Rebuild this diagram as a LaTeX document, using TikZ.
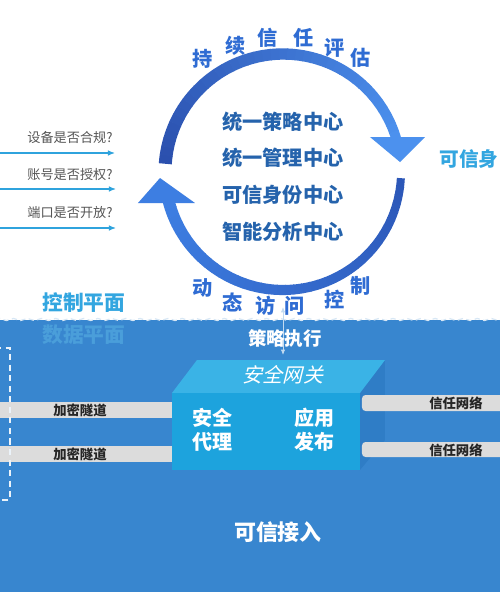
\documentclass[tikz,border=0pt]{standalone}
\usepackage{fontspec}
\setmainfont{Noto Sans CJK SC}
\newfontfamily\cjkit[FakeSlant=0.25]{Noto Sans CJK SC}
\usetikzlibrary{calc,decorations.pathmorphing,arrows.meta}
\definecolor{bgblue}{HTML}{3886CF}
\definecolor{ringdark}{HTML}{2B50AE}
\definecolor{ringlight}{HTML}{4C91EE}
\definecolor{ringbdark}{HTML}{2C57B8}
\definecolor{ringblight}{HTML}{3D7EE2}
\definecolor{labblue}{HTML}{2F6CD3}
\definecolor{ctrtxt}{HTML}{2563AC}
\definecolor{cyantxt}{HTML}{33A6E0}
\definecolor{faint}{HTML}{4A9EDA}
\definecolor{qgray}{HTML}{555555}
\definecolor{arrcyan}{HTML}{2FA3DD}
\definecolor{frontc}{HTML}{1DA3DD}
\definecolor{topc}{HTML}{3AB3E6}
\definecolor{sidec}{HTML}{2F7DC6}
\definecolor{barg}{HTML}{DCDCDC}
\begin{document}
\begin{tikzpicture}[x=0.02cm,y=0.02cm,
  qtxt/.style={font=\fontsize{7.5}{9}\selectfont, text=qgray, inner sep=0pt},
  qarr/.style={draw=arrcyan, line width=0.7pt, -{Latex[length=4pt,width=3.2pt]}},
  ctr/.style={font=\fontsize{11.5}{13}\selectfont\bfseries, text=ctrtxt, inner sep=0pt},
  ringlab/.style={font=\fontsize{11.5}{13}\selectfont\bfseries, text=labblue, inner sep=0pt},
  plane/.style={font=\fontsize{11.8}{14}\selectfont\bfseries, inner sep=0pt},
  wtxt/.style={font=\fontsize{11.4}{13.7}\selectfont\bfseries, text=white, inner sep=0pt, align=center},
  bartxt/.style={font=\fontsize{7.6}{9}\selectfont\bfseries, text=black!85, inner sep=0pt},
]
\useasboundingbox (0,0) rectangle (500,600);
\clip (0,0) rectangle (500,600);
\fill[white] (0,0) rectangle (500,600);
% data plane background
\fill[bgblue] (0,8) rectangle (500,280);
\draw[white!80!bgblue, line width=0.7pt, dash pattern=on 3pt off 2pt, decorate,
  decoration={snake, amplitude=0.6pt, segment length=8pt}] (-5,280.5) -- (505,280.5);

% ring
\coordinate (C) at (283,428);
\foreach \i in {0,...,39}{
  \pgfmathsetmacro\aa{176-\i*4}
  \pgfmathsetmacro\ab{\aa-4.3}
  \pgfmathtruncatemacro\p{100*\i/39}
  \pgfmathsetmacro\w{(13-3*\i/39)*0.569}
  \draw[line width=\w pt, ringlight!\p!ringdark] (C) ++(\aa:118) arc[start angle=\aa, end angle=\ab, radius=2.36cm];
}
\fill[ringlight] (370,463) -- (425,463) -- (400,438) -- cycle;
\foreach \i in {0,...,39}{
  \pgfmathsetmacro\aa{-3-\i*163/40}
  \pgfmathsetmacro\ab{\aa-163/40-0.3}
  \pgfmathtruncatemacro\p{100*\i/39}
  \pgfmathsetmacro\w{(8+4*\i/39)*0.569}
  \draw[line width=\w pt, ringblight!\p!ringbdark] (C) ++(\aa:118) arc[start angle=\aa, end angle=\ab, radius=2.36cm];
}
\fill[ringblight] (138,397) -- (195,397) -- (160,422) -- cycle;

% centre texts
\node[ctr] (c1) at (283,478) {统一策略中心};
\node[ctr] (c2) at (283,442) {统一管理中心};
\node[ctr] (c3) at (283,405) {可信身份中心};
\node[ctr] (c4) at (283,368) {智能分析中心};

% ring labels
\node[ringlab] (r1) at (203,541) {持};
\node[ringlab] (r2) at (236,554) {续};
\node[ringlab] (r3) at (268,562) {信};
\node[ringlab] (r4) at (304,562) {任};
\node[ringlab] (r5) at (335,552) {评};
\node[ringlab] (r6) at (361,542) {估};
\node[ringlab] (b1) at (203,312) {动};
\node[ringlab] (b2) at (233,298) {态};
\node[ringlab] (b3) at (266,294) {访};
\node[ringlab] (b4) at (295,294) {问};
\node[ringlab] (b5) at (335,300) {控};
\node[ringlab] (b6) at (361,314) {制};

\node[plane, font=\fontsize{11.2}{13}\selectfont\bfseries, text=cyantxt, anchor=west] (kx) at (439,441) {可信身};

% questions
\node[qtxt, anchor=east] (q1) at (113,463) {设备是否合规?};
\node[qtxt, anchor=east] (q2) at (113,425) {账号是否授权?};
\node[qtxt, anchor=east] (q3) at (113,387) {端口是否开放?};
\coordinate (a1s) at (-2,447); \coordinate (a1e) at (115,447);
\coordinate (a2s) at (-2,411); \coordinate (a2e) at (116,411);
\coordinate (a3s) at (-2,372); \coordinate (a3e) at (116,372);
\draw[qarr] (a1s) -- (a1e);
\draw[qarr] (a2s) -- (a2e);
\draw[qarr] (a3s) -- (a3e);

% planes
\node[plane, text=cyantxt] (cp) at (84,297) {控制平面};
\node[plane, text=faint] (dp) at (84,265) {数据平面};

% policy enforcement arrow
\coordinate (pu) at (283,293);
\coordinate (pd) at (283,245);
\draw[draw=white!70!bgblue, line width=0.5pt, {Latex[length=3pt,width=2.5pt]}-{Latex[length=3pt,width=2.5pt]}] (pd) -- (pu);
\node[wtxt, font=\fontsize{10.5}{12}\selectfont\bfseries] (pe) at (285,262) {策略执行};

% gateway cube
\fill[sidec] (360,207) -- (385,240) -- (385,160) -- (360,130) -- cycle;
\fill[topc] (172,207) -- (360,207) -- (385,240) -- (197,240) -- cycle;
\fill[frontc] (172,130) rectangle (360,207);
\node[wtxt, font=\fontsize{11.4}{13}\selectfont\cjkit] (gw) at (283,225) {安全网关};
\node[wtxt] (sp) at (213,170) {安全\\代理};
\node[wtxt] (ap) at (315,170) {应用\\发布};

% tunnels
\fill[barg] (0,182) rectangle (172,198);
\fill[barg] (0,138) rectangle (172,154);
\node[bartxt] (t1) at (80,190) {加密隧道};
\node[bartxt] (t2) at (80,146) {加密隧道};
\fill[barg, rounded corners=2pt] (362,189) rectangle (510,205);
\fill[barg, rounded corners=2pt] (362,143) rectangle (510,158);
\node[bartxt] (n1) at (456,197) {信任网络};
\node[bartxt] (n2) at (456,150) {信任网络};

% dashed client box
\coordinate (d1) at (-5,252); \coordinate (d2) at (10,252);
\coordinate (d3) at (10,100); \coordinate (d4) at (-5,100);
\draw[white!90!bgblue, line width=0.9pt, dash pattern=on 3.5pt off 2.5pt] (d1) -- (d2) -- (d3) -- (d4);

\node[wtxt, font=\fontsize{12.5}{14}\selectfont\bfseries] (ta) at (278,68) {可信接入};
\end{tikzpicture}
\end{document}
